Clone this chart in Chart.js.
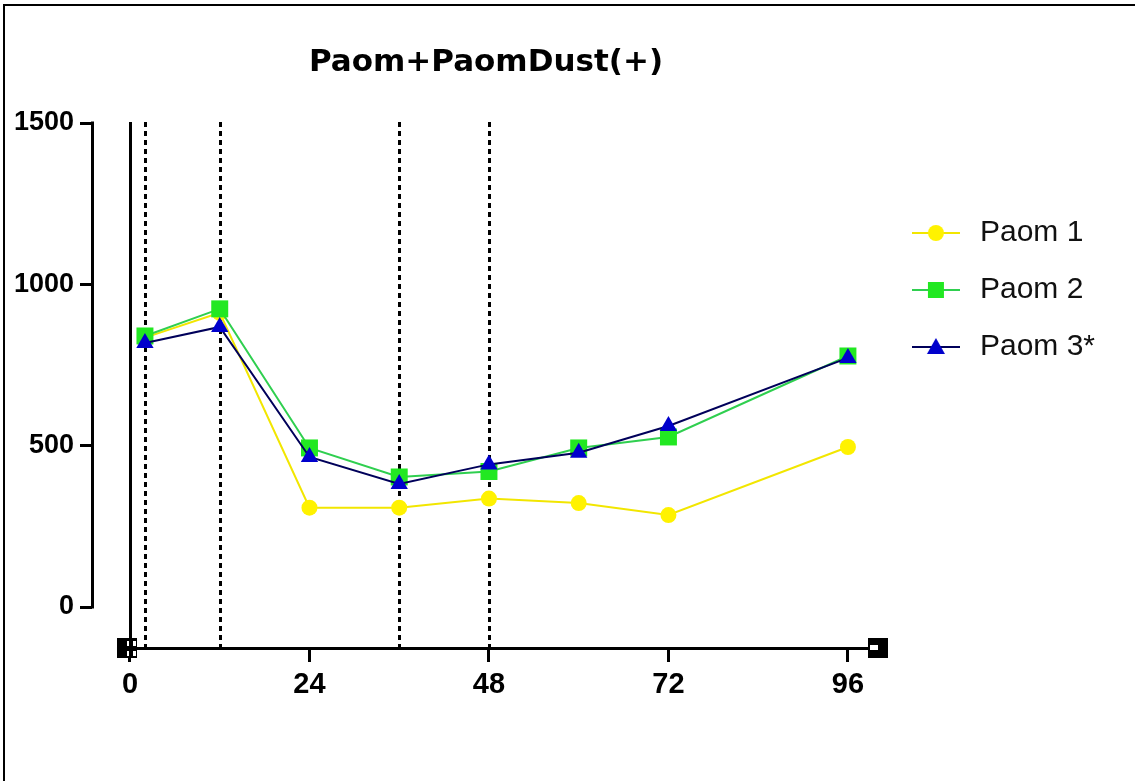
<!DOCTYPE html>
<html><head><meta charset="utf-8">
<script src="https://cdn.jsdelivr.net/npm/chart.js@4.4.1/dist/chart.umd.min.js"></script>
<style>html,body{margin:0;padding:0;background:#fff;overflow:hidden}canvas{display:block}</style>
</head><body>
<canvas id="c" width="1135" height="781"></canvas>
<script>
const hours = [2, 12, 24, 36, 48, 60, 72, 96];
const paom1 = [835, 912, 308, 308, 336, 322, 285, 496];
const paom2 = [840, 924, 493, 403, 420, 493, 527, 778];
const paom3 = [818, 868, 465, 381, 442, 478, 561, 772];
const seriesNames = ['Paom 1', 'Paom 2', 'Paom 3*'];
const xTicks = [0, 24, 48, 72, 96];
const yTicks = [0, 500, 1000, 1500];
const solidLines = [0];
const dottedLines = [2, 12, 36, 48];
const titleText = 'Paom+PaomDust(+)';

const styles = [
  {shape: 'circle', fill: '#FFF200', line: '#F2E600', radius: 8},
  {shape: 'rect', fill: '#22E822', line: '#2FCF4F', radius: 12},
  {shape: 'triangle', fill: '#0000CC', line: '#00005A', radius: 10}
];

function makeIcon(s) {
  const c = document.createElement('canvas'); c.width = 48; c.height = 24;
  const g = c.getContext('2d');
  g.strokeStyle = s.line; g.lineWidth = 2;
  g.beginPath(); g.moveTo(0, 12); g.lineTo(48, 12); g.stroke();
  g.fillStyle = s.fill;
  if (s.shape === 'circle') { g.beginPath(); g.arc(24, 12, 8, 0, Math.PI * 2); g.fill(); }
  else if (s.shape === 'rect') { g.fillRect(16, 4, 16, 16); }
  else { g.beginPath(); g.moveTo(24, 3); g.lineTo(33, 19); g.lineTo(15, 19); g.closePath(); g.fill(); }
  return c;
}
const icons = styles.map(makeIcon);

const seriesValues = [paom1, paom2, paom3];
const datasets = seriesValues.map((vals, i) => ({
  label: seriesNames[i],
  data: hours.map((h, j) => ({x: h, y: vals[j]})),
  borderColor: styles[i].line,
  backgroundColor: styles[i].fill,
  pointBackgroundColor: styles[i].fill,
  pointBorderColor: styles[i].fill,
  pointBorderWidth: 0,
  pointStyle: styles[i].shape,
  pointRadius: styles[i].radius,
  pointHoverRadius: styles[i].radius,
  borderWidth: 2,
  tension: 0,
  fill: false,
  order: 2 - i
}));

const decor = {
  id: 'decor',
  beforeDraw(chart) {
    const ctx = chart.ctx;
    ctx.save();
    ctx.strokeStyle = '#000'; ctx.lineWidth = 2;
    ctx.beginPath(); ctx.moveTo(4, 781); ctx.lineTo(4, 5); ctx.lineTo(1135, 5); ctx.stroke();
    ctx.restore();
  },
  beforeDatasetsDraw(chart) {
    const {ctx, chartArea, scales: {x, y}} = chart;
    const top = y.getPixelForValue(yTicks[yTicks.length - 1]);
    const bottom = chartArea.bottom;
    ctx.save();
    ctx.strokeStyle = '#000'; ctx.lineWidth = 3;
    solidLines.forEach(v => {
      const px = Math.round(x.getPixelForValue(v)) + 0.5;
      ctx.beginPath(); ctx.moveTo(px, top - 1); ctx.lineTo(px, bottom); ctx.stroke();
    });
    ctx.setLineDash([5, 4]);
    dottedLines.forEach(v => {
      const px = Math.round(x.getPixelForValue(v)) + 0.5;
      ctx.beginPath(); ctx.moveTo(px, top - 1); ctx.lineTo(px, bottom); ctx.stroke();
    });
    ctx.setLineDash([]);
    const ax = chartArea.left + 0.5;
    ctx.beginPath(); ctx.moveTo(ax, top - 1.5); ctx.lineTo(ax, y.getPixelForValue(0) + 1.5); ctx.stroke();
    const x0 = x.getPixelForValue(xTicks[0]);
    const x1 = x.getPixelForValue(xTicks[xTicks.length - 1]);
    const by = Math.round(bottom) + 0.5;
    ctx.beginPath(); ctx.moveTo(x0 - 13, by); ctx.lineTo(x1 + 30, by); ctx.stroke();
    ctx.restore();
  },
  afterDraw(chart) {
    const {ctx, chartArea, scales: {x}} = chart;
    const x0 = Math.round(x.getPixelForValue(xTicks[0]));
    const x1 = Math.round(x.getPixelForValue(xTicks[xTicks.length - 1]));
    const by = Math.round(chartArea.bottom);
    ctx.save();
    ctx.fillStyle = '#000';
    ctx.fillRect(x0 - 13, by - 10, 20, 20);
    ctx.fillStyle = '#fff';
    ctx.fillRect(x0 - 3, by - 7, 2, 5);
    ctx.fillRect(x0 - 3, by + 3, 2, 5);
    ctx.fillRect(x0 + 3, by - 7, 3, 5);
    ctx.fillRect(x0 + 3, by + 3, 3, 5);
    ctx.fillStyle = '#000';
    ctx.fillRect(x1 + 20, by - 10, 20, 20);
    ctx.fillStyle = '#fff';
    ctx.fillRect(x1 + 22, by - 3, 8, 5);
    ctx.restore();
  }
};

new Chart(document.getElementById('c'), {
  type: 'line',
  data: {datasets},
  plugins: [decor],
  options: {
    responsive: false,
    animation: false,
    devicePixelRatio: 1,
    layout: {padding: {left: 0, right: 30, top: 0, bottom: 0}},
    plugins: {
      tooltip: {enabled: false},
      title: {
        display: true,
        text: titleText,
        fullSize: false,
        color: '#000',
        font: {family: 'DejaVu Sans', size: 31, weight: 'bold', lineHeight: 1.2},
        padding: {top: 44, bottom: 41.8}
      },
      legend: {
        display: true,
        position: 'right',
        align: 'start',
        title: {display: true, text: '', font: {size: 10, lineHeight: 1}, padding: {top: 181, bottom: 0}},
        labels: {
          usePointStyle: true,
          pointStyleWidth: 58,
          padding: 27,
          color: '#111',
          font: {family: 'Liberation Sans, Arial', size: 30},
          sort: (a, b) => a.datasetIndex - b.datasetIndex,
          generateLabels: chart => Chart.defaults.plugins.legend.labels.generateLabels(chart)
            .map(l => Object.assign(l, {pointStyle: icons[l.datasetIndex]}))
        }
      }
    },
    scales: {
      x: {
        type: 'linear',
        min: -5.08,
        max: 100.28,
        afterFit: s => { s.height = 133; },
        afterBuildTicks: s => { s.ticks = xTicks.map(v => ({value: v})); },
        border: {display: false},
        grid: {display: true, drawOnChartArea: false, drawTicks: true, tickLength: 14, color: '#000', lineWidth: 3},
        ticks: {color: '#000', padding: 6, maxRotation: 0, autoSkip: false,
          callback: v => String(v),
          font: {family: 'Liberation Sans, Arial', size: 29, weight: 'bold'}}
      },
      y: {
        type: 'linear',
        min: -127,
        max: 1500,
        afterFit: s => { s.width = 92; },
        afterBuildTicks: s => { s.ticks = yTicks.map(v => ({value: v})); },
        border: {display: false},
        grid: {display: true, drawOnChartArea: false, drawTicks: true, tickLength: 12, color: '#000', lineWidth: 3},
        ticks: {color: '#000', padding: 6, autoSkip: false,
          callback: v => String(v),
          font: {family: 'Liberation Sans, Arial', size: 27, weight: 'bold'}}
      }
    }
  }
});
</script>
</body></html>
